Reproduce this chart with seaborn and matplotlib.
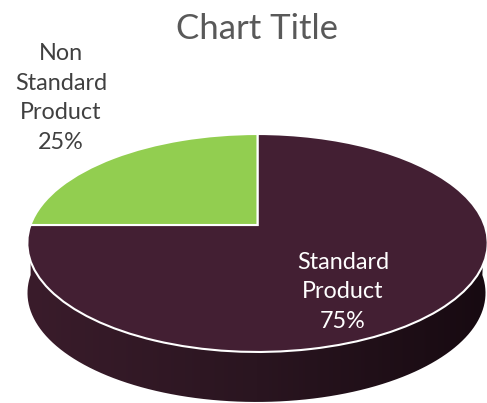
import numpy as np
import matplotlib
matplotlib.use("Agg")
import matplotlib.pyplot as plt
from matplotlib.colors import LinearSegmentedColormap
from matplotlib.patches import PathPatch
from matplotlib.path import Path
from matplotlib.transforms import Transform
import seaborn as sns

# Chart data
categories = ["Standard\nProduct", "Non\nStandard\nProduct"]
shares = [75, 25]
colors = ["#431F33", "#92CE50"]
side_colors = ["#3A1C2B", "#2A1520", "#170A11"]
title = "Chart Title"

sns.set_theme(style="white")
plt.rcParams["font.family"] = ["Lato", "DejaVu Sans"]

# tilted disc: unit circle to pixels, near edge bigger than far edge
TILT = 0.165
CX, CY = 257.5, 225
RX, RY = 227, 106
DEPTH = 50


class Tilt(Transform):
    input_dims = 2
    output_dims = 2

    def transform_non_affine(self, values):
        values = np.asarray(values, dtype=float)
        x, y = values[:, 0], values[:, 1]
        d = 1 + TILT * y
        return np.column_stack([CX + RX * x / d, CY - RY * y / d])


fig, ax = plt.subplots(figsize=(4.87, 4.03), dpi=100)
fig.subplots_adjust(0, 0, 1, 1)

wedges, _ = ax.pie(shares, colors=sns.color_palette(colors), startangle=180,
                   frame=True, wedgeprops={"edgecolor": "white", "linewidth": 1.5, "zorder": 3})
tilt = Tilt()
for w in wedges:
    w.set_transform(tilt + ax.transData)

# side wall, gradient clipped to the area under the front rim
t = np.linspace(np.pi, 2 * np.pi, 200)
ring = np.column_stack([np.cos(t), np.sin(t)])
rim = tilt.transform(ring)
foot = rim.copy()
foot[:, 0] = CX - 1 + (foot[:, 0] - CX) * 0.995
foot[:, 1] = foot[:, 1] + DEPTH
side = Path(np.vstack([rim, foot[::-1], rim[:1]]))

cmap = LinearSegmentedColormap.from_list("side", side_colors)
img = ax.imshow(np.linspace(0, 1, 256)[None, :], cmap=cmap, aspect="auto",
                extent=(27, 487, 403, 225), zorder=1)
img.set_clip_path(PathPatch(side, transform=ax.transData))

ax.set_xlim(0, 487)
ax.set_ylim(403, 0)
ax.set_aspect("auto")
ax.set_axis_off()

ax.text(257, 29, title, ha="center", va="center", fontsize=25, color="#595959")
ax.text(61, 98, f"{categories[1]}\n{shares[1]}%", ha="center", va="center",
        fontsize=16.8, color="#404040", linespacing=1.5)
ax.text(343, 292, f"{categories[0]}\n{shares[0]}%", ha="center", va="center",
        fontsize=16.8, color="white", linespacing=1.5)

fig.savefig("out.png", dpi=100)
